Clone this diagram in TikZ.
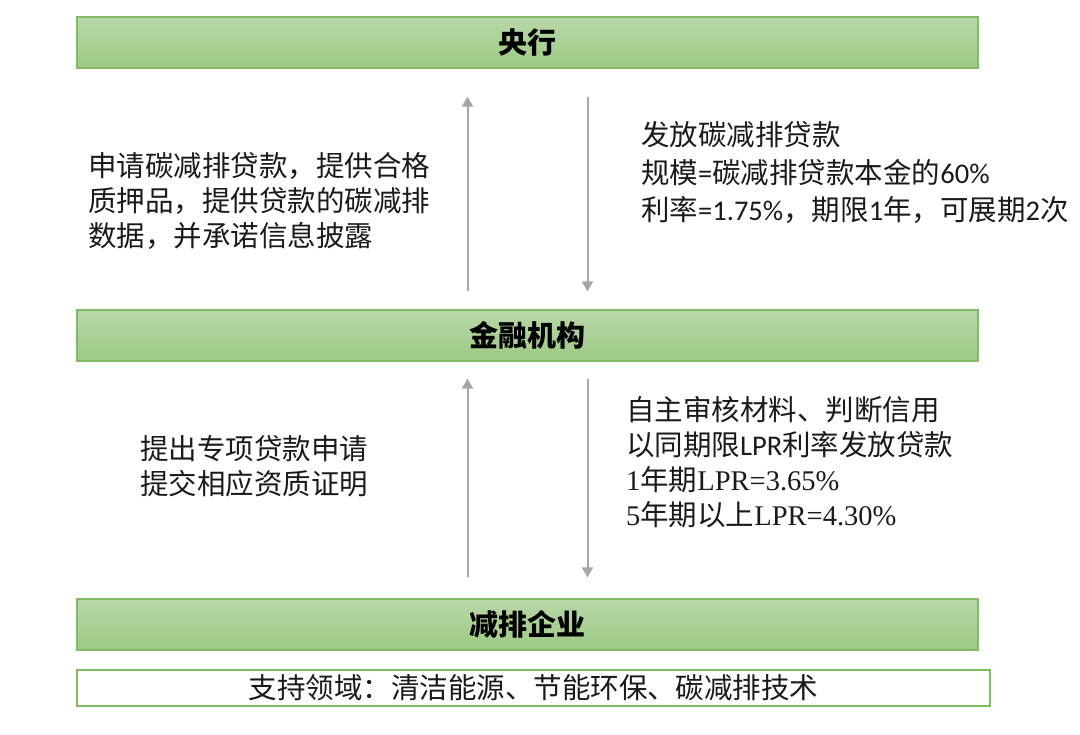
\documentclass[tikz,border=0pt]{standalone}
\usepackage{fontspec}
\setmainfont{Noto Sans CJK SC}
\newfontfamily\serifnum{Liberation Serif}
\newfontfamily\lat{Carlito}
\usetikzlibrary{arrows.meta}
\definecolor{barTop}{HTML}{B8D8A8}
\definecolor{barBottom}{HTML}{9CCA84}
\definecolor{barLine}{HTML}{82BA66}
\definecolor{arrowGray}{HTML}{A6A6A6}
\definecolor{textDark}{HTML}{1A1A1A}

\begin{document}
\begin{tikzpicture}[
    x=1pt, y=-1pt,
    bar/.style={draw=barLine, line width=1.2pt, top color=barTop, bottom color=barBottom, minimum width=901pt, minimum height=51pt, inner sep=0pt, font=\fontsize{29}{34}\selectfont\bfseries, text=black},
    note/.style={align=left, inner sep=0pt, text=textDark, font=\fontsize{28.5}{35}\selectfont},
    link/.style={draw=arrowGray, line width=2pt, -{Triangle[width=11pt,length=10pt]}}
]
\useasboundingbox (0,0) rectangle (1080,735);

% Bars
\node[bar] (bank) at (527.5,42.5) {央行};
\node[bar] (inst) at (527.5,335.5) {金融机构};
\node[bar] (firm) at (527.5,624.5) {减排企业};
\node[draw=barLine, line width=1.5pt, fill=white, minimum width=913pt, minimum height=36pt, inner sep=0pt, text=textDark, font=\fontsize{28.5}{34}\selectfont] (field) at (533.5,688) {支持领域：清洁能源、节能环保、碳减排技术};

% Notes
\node[note, anchor=west] (applyup) at (88,201) {申请碳减排贷款，提供合格\\质押品，提供贷款的碳减排\\数据，并承诺信息披露};
\node[note, anchor=west, font=\fontsize{28.5}{37.5}\selectfont] (lenddown) at (641,173) {发放碳减排贷款\\规模{\lat =}碳减排贷款本金的{\lat 60\%}\\利率{\lat =1.75\%}，期限{\lat 1}年，可展期{\lat 2}次};
\node[note, anchor=west] (applylow) at (140,466.5) {提出专项贷款申请\\提交相应资质证明};
\node[note, anchor=west] (lendlow) at (626,462.5) {自主审核材料、判断信用\\以同期限{\lat LPR}利率发放贷款\\{\serifnum 1}年期{\serifnum LPR=3.65\%}\\{\serifnum 5}年期以上{\serifnum LPR=4.30\%}};

% Paths
\draw[link] ([xshift=-60pt,yshift=18pt]inst.north) -- ([xshift=-60pt,yshift=-28pt]bank.south);
\draw[link] ([xshift=60pt,yshift=-28pt]bank.south) -- ([xshift=60pt,yshift=18pt]inst.north);
\draw[link] ([xshift=-60pt,yshift=21pt]firm.north) -- ([xshift=-60pt,yshift=-17pt]inst.south);
\draw[link] ([xshift=60pt,yshift=-17pt]inst.south) -- ([xshift=60pt,yshift=21pt]firm.north);

\end{tikzpicture}
\end{document}
